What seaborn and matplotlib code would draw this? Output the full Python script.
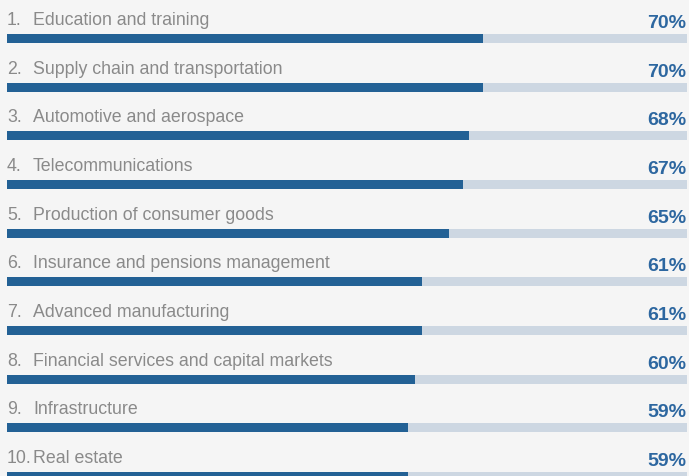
import matplotlib
matplotlib.use("Agg")
import matplotlib.pyplot as plt
import seaborn as sns
import pandas as pd

numbers = ["1.", "2.", "3.", "4.", "5.", "6.", "7.", "8.", "9.", "10."]
categories = [
    "Education and training",
    "Supply chain and transportation",
    "Automotive and aerospace",
    "Telecommunications",
    "Production of consumer goods",
    "Insurance and pensions management",
    "Advanced manufacturing",
    "Financial services and capital markets",
    "Infrastructure",
    "Real estate",
]
values = [70, 70, 68, 67, 65, 61, 61, 60, 59, 59]
track = [100] * len(values)

BG = "#f5f5f5"
DARK = "#236195"
TRACK = "#cdd7e2"
GRAY = "#8a8a8a"
PCT = "#2d67a0"

sns.set_theme(style="white")
plt.rcParams["font.family"] = ["Liberation Sans", "DejaVu Sans"]

df = pd.DataFrame({"cat": categories, "val": values, "track": track})

fig = plt.figure(figsize=(6.89, 4.76), dpi=100, facecolor=BG)
ax = fig.add_axes([0, 0, 1, 1])
ax.set_facecolor(BG)

sns.barplot(data=df, y="cat", x="track", color=TRACK, width=0.185,
            orient="h", ax=ax, saturation=1, linewidth=0)
sns.barplot(data=df, y="cat", x="val", color=DARK, width=0.185,
            orient="h", ax=ax, saturation=1, linewidth=0)

ax.set_xlim(-7 / 6.8, (689 - 7) / 6.8)
ax.set_ylim(8.99, -0.791)

for i, (n, c, v) in enumerate(zip(numbers, categories, values)):
    ax.text(0, i - 0.277, n, color=GRAY, fontsize=12.8, va="baseline", ha="left")
    ax.text(3.82, i - 0.277, c, color=GRAY, fontsize=12.8, va="baseline", ha="left")
    ax.text(99.9, i - 0.216, f"{v}%", color=PCT, fontsize=14,
            fontweight="bold", va="baseline", ha="right")

ax.set_xlabel("")
ax.set_ylabel("")
ax.set_xticks([])
ax.set_yticks([])
for s in ax.spines.values():
    s.set_visible(False)

fig.savefig("out.png", dpi=100, facecolor=BG)
